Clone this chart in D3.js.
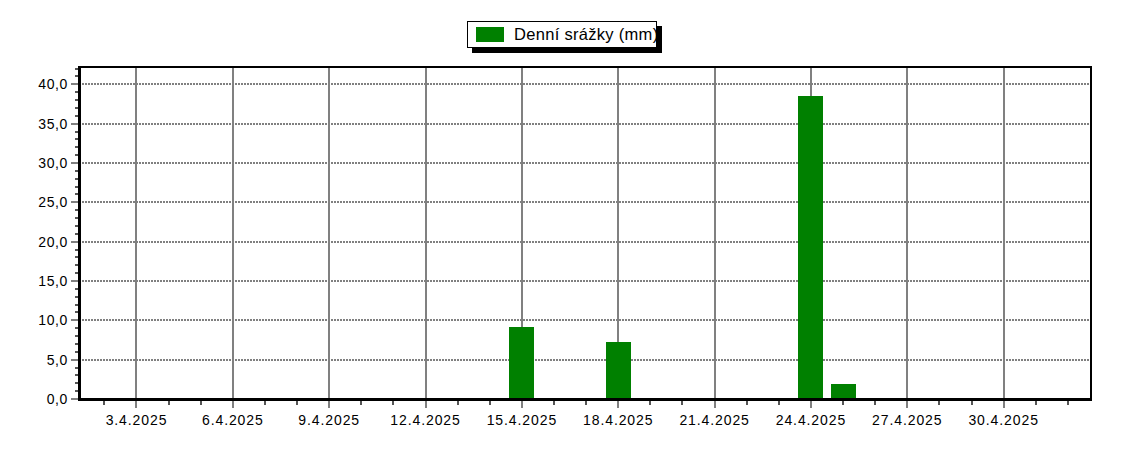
<!DOCTYPE html>
<html><head><meta charset="utf-8">
<script src="https://cdn.jsdelivr.net/npm/d3@7"></script>
<style>body{margin:0;background:#fff}svg{display:block}text{font-family:"Liberation Sans",Arial,sans-serif}</style>
</head><body>
<svg id="c" width="1125" height="450"></svg>
<script>
const days = [1,2,3,4,5,6,7,8,9,10,11,12,13,14,15,16,17,18,19,20,21,22,23,24,25,26,27,28,29,30];
const rain = [0,0,0,0,0,0,0,0,0,0,0,0,0,0,9.2,0,0,7.3,0,0,0,0,0,38.5,1.9,0,0,0,0,0];
const majorDays = [3,6,9,12,15,18,21,24,27,30];
const xLabels = ["3.4.2025","6.4.2025","9.4.2025","12.4.2025","15.4.2025","18.4.2025","21.4.2025","24.4.2025","27.4.2025","30.4.2025"];
const minorDays = [2,3,4,5,6,7,8,9,10,11,12,13,14,15,16,17,18,19,20,21,22,23,24,25,26,27,28,29,30,31,32];
const yMajor = [0,5,10,15,20,25,30,35,40];
const yLabels = ["0,0","5,0","10,0","15,0","20,0","25,0","30,0","35,0","40,0"];
const yMinor = d3.range(0,43);
const seriesName = "Denní srážky (mm)";

const svg = d3.select("#c");
const L=79, R=1091, T=67, B=399;
const x = d3.scaleLinear().domain([1.21, 32.72]).range([L, R]);
const y = d3.scaleLinear().domain([0, 42.2]).range([B, T]);
const grey="#808080";
const rx = d => Math.round(x(d));
const ry = d => Math.round(y(d));

// horizontal grid
svg.append("g").attr("shape-rendering","crispEdges").selectAll("line").data(yMajor.filter(v=>v>0)).join("line")
  .attr("x1",L).attr("x2",R).attr("y1",ry).attr("y2",ry)
  .attr("stroke",grey).attr("stroke-width",2).attr("stroke-dasharray","2,1");
// vertical grid
svg.append("g").attr("shape-rendering","crispEdges").selectAll("line").data(majorDays).join("line")
  .attr("x1",rx).attr("x2",rx).attr("y1",T).attr("y2",B+9)
  .attr("stroke",grey).attr("stroke-width",2);

// bars
const bw = 25/ (x(1)-x(0));
svg.append("g").attr("shape-rendering","crispEdges").selectAll("rect").data(days.map((d,i)=>({d,v:rain[i]})).filter(o=>o.v>0)).join("rect")
  .attr("x",o=>Math.round(x(o.d-bw/2))).attr("width",o=>Math.round(x(o.d+bw/2)-x(o.d-bw/2)))
  .attr("y",o=>ry(o.v)).attr("height",o=>y(0)-ry(o.v)).attr("fill","#008000");

// x minor ticks
svg.append("g").attr("shape-rendering","crispEdges").selectAll("line").data(minorDays.filter(d=>!majorDays.includes(d))).join("line")
  .attr("x1",rx).attr("x2",rx).attr("y1",B).attr("y2",B+6)
  .attr("stroke","#555").attr("stroke-width",2);
// y minor ticks
svg.append("g").attr("shape-rendering","crispEdges").selectAll("line").data(yMinor.filter(v=>v%5!==0)).join("line")
  .attr("x1",L-4).attr("x2",L).attr("y1",ry).attr("y2",ry)
  .attr("stroke","#555").attr("stroke-width",2);
svg.append("g").attr("shape-rendering","crispEdges").selectAll("line").data(yMajor).join("line")
  .attr("x1",L-8).attr("x2",L).attr("y1",ry).attr("y2",ry)
  .attr("stroke",grey).attr("stroke-width",2);

// frame
const fr = svg.append("g").attr("shape-rendering","crispEdges");
fr.append("line").attr("x1",L).attr("x2",R).attr("y1",T).attr("y2",T).attr("stroke","#000").attr("stroke-width",2);
fr.append("line").attr("x1",R).attr("x2",R).attr("y1",T-1).attr("y2",B).attr("stroke","#000").attr("stroke-width",2);
fr.append("line").attr("x1",L).attr("x2",L).attr("y1",T-1).attr("y2",B+2).attr("stroke","#000").attr("stroke-width",3);
fr.append("line").attr("x1",L-1).attr("x2",R+1).attr("y1",B).attr("y2",B).attr("stroke","#000").attr("stroke-width",3);

// labels
svg.append("g").selectAll("text").data(yMajor).join("text")
  .attr("x",68).attr("y",d=>y(d)+5).attr("text-anchor","end")
  .attr("font-size",14).attr("letter-spacing",0.6).attr("fill","#000").text((d,i)=>yLabels[i]);
svg.append("g").selectAll("text").data(majorDays).join("text")
  .attr("x",d=>x(d)).attr("y",425).attr("text-anchor","middle")
  .attr("font-size",14).attr("letter-spacing",0.9).attr("fill","#000").text((d,i)=>xLabels[i]);

// legend
const lg = svg.append("g").attr("shape-rendering","crispEdges");
lg.append("rect").attr("x",472).attr("y",26).attr("width",190).attr("height",27).attr("fill","#000");
lg.append("rect").attr("x",467.5).attr("y",21.5).attr("width",189).attr("height",26).attr("fill","#fff").attr("stroke","#000").attr("stroke-width",1);
lg.append("rect").attr("x",476).attr("y",27).attr("width",28).attr("height",15).attr("fill","#008000");
lg.append("text").attr("x",514).attr("y",40).attr("font-size",16.5).attr("letter-spacing",0.3).attr("fill","#000").text(seriesName);
</script>
</body></html>
